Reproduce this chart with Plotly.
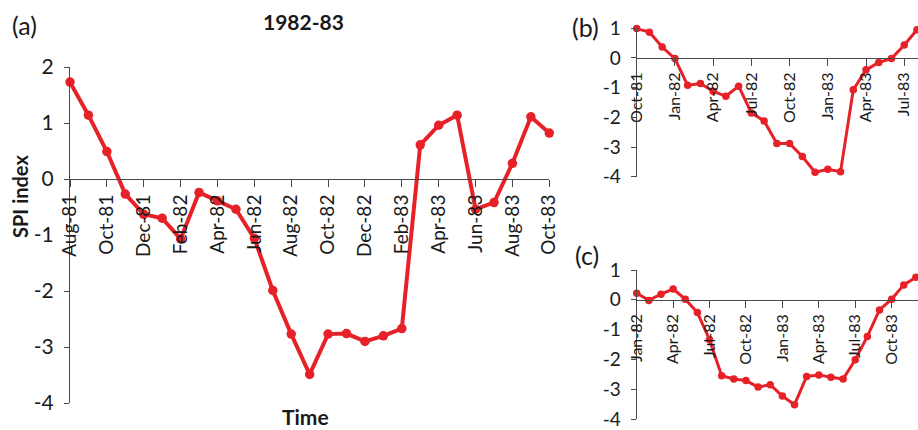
import plotly.graph_objects as go

# ---------------- data ----------------
months_a = ["Aug-81", "Sep-81", "Oct-81", "Nov-81", "Dec-81", "Jan-82", "Feb-82", "Mar-82",
            "Apr-82", "May-82", "Jun-82", "Jul-82", "Aug-82", "Sep-82", "Oct-82", "Nov-82",
            "Dec-82", "Jan-83", "Feb-83", "Mar-83", "Apr-83", "May-83", "Jun-83", "Jul-83",
            "Aug-83", "Sep-83", "Oct-83"]
spi_a = [1.73, 1.14, 0.49, -0.27, -0.63, -0.70, -1.07, -0.24, -0.39, -0.54, -1.06, -1.99,
         -2.77, -3.49, -2.77, -2.76, -2.90, -2.80, -2.67, 0.61, 0.96, 1.14, -0.54, -0.42,
         0.28, 1.11, 0.82]
ticks_a = ["Aug-81", "Oct-81", "Dec-81", "Feb-82", "Apr-82", "Jun-82", "Aug-82", "Oct-82",
           "Dec-82", "Feb-83", "Apr-83", "Jun-83", "Aug-83", "Oct-83"]

months_b = ["Oct-81", "Nov-81", "Dec-81", "Jan-82", "Feb-82", "Mar-82", "Apr-82", "May-82",
            "Jun-82", "Jul-82", "Aug-82", "Sep-82", "Oct-82", "Nov-82", "Dec-82", "Jan-83",
            "Feb-83", "Mar-83", "Apr-83", "May-83", "Jun-83", "Jul-83", "Aug-83"]
spi_b = [0.99, 0.87, 0.37, -0.02, -0.92, -0.86, -1.12, -1.29, -0.95, -1.85, -2.12, -2.88,
         -2.88, -3.32, -3.85, -3.75, -3.83, -1.07, -0.40, -0.15, -0.02, 0.44, 0.95]
ticks_b = ["Oct-81", "Jan-82", "Apr-82", "Jul-82", "Oct-82", "Jan-83", "Apr-83", "Jul-83"]

months_c = ["Jan-82", "Feb-82", "Mar-82", "Apr-82", "May-82", "Jun-82", "Jul-82", "Aug-82",
            "Sep-82", "Oct-82", "Nov-82", "Dec-82", "Jan-83", "Feb-83", "Mar-83", "Apr-83",
            "May-83", "Jun-83", "Jul-83", "Aug-83", "Sep-83", "Oct-83", "Nov-83", "Dec-83"]
spi_c = [0.22, -0.02, 0.19, 0.36, 0.02, -0.43, -1.34, -2.55, -2.66, -2.71, -2.93, -2.85,
         -3.23, -3.52, -2.57, -2.52, -2.60, -2.66, -2.01, -1.23, -0.34, 0.02, 0.50, 0.76]
ticks_c = ["Jan-82", "Apr-82", "Jul-82", "Oct-82", "Jan-83", "Apr-83", "Jul-83", "Oct-83"]

y_ticks_a = [2, 1, 0, -1, -2, -3, -4]
y_ticks_bc = [1, 0, -1, -2, -3, -4]

# ---------------- layout helpers ----------------
W, H = 918, 430
FONT = "Lato, 'Open Sans', sans-serif"
RED = "#e62228"
AX = "#4a4a4a"


def px(x):
    return x / W


def py(y):
    return 1 - y / H


def ylabels(vals):
    return [str(v) for v in vals]  # hyphen minus like the original


fig = go.Figure()

fig.add_trace(go.Scatter(x=months_a, y=spi_a, mode="lines+markers", xaxis="x", yaxis="y",
                         line=dict(color=RED, width=4), marker=dict(color=RED, size=9.5),
                         cliponaxis=False, showlegend=False))
fig.add_trace(go.Scatter(x=months_b, y=spi_b, mode="lines+markers", xaxis="x2", yaxis="y2",
                         line=dict(color=RED, width=3), marker=dict(color=RED, size=7.5),
                         cliponaxis=False, showlegend=False))
fig.add_trace(go.Scatter(x=months_c, y=spi_c, mode="lines+markers", xaxis="x3", yaxis="y3",
                         line=dict(color=RED, width=3), marker=dict(color=RED, size=7.5),
                         cliponaxis=False, showlegend=False))

# panel geometry (pixels)
a_dom_x = [px(70), px(549.3)]
a_dom_y = [py(403), py(67)]
a_rng_y = [-4, 2]
b_dom_x = [px(636.7), 1.0]
b_dom_y = [py(176.7), py(28.3)]
c_dom_x = [px(636.7), 1.0]
c_dom_y = [py(419), py(270)]
bc_rng_y = [-4, 1]


def zero_pos(dom, rng):
    return dom[0] + (0 - rng[0]) / (rng[1] - rng[0]) * (dom[1] - dom[0])


def xaxis(dom, ydom, yrng, ticks, rng, fsize):
    return dict(domain=dom, type="category", range=rng, anchor="free",
                position=zero_pos(ydom, yrng), automargin=False,
                showline=True, linecolor=AX, linewidth=1, mirror=False,
                showgrid=False, zeroline=False,
                tickmode="array", tickvals=ticks, ticktext=ticks,
                ticks="outside", ticklen=7, tickcolor=AX, tickwidth=1,
                tickangle=-90, tickfont=dict(family=FONT, size=fsize, color="#1a1a1a"),
                fixedrange=True)


def yaxis(dom, rng, vals, fsize, anchor_x):
    return dict(domain=dom, range=rng, anchor=anchor_x, automargin=False,
                showline=True, linecolor=AX, linewidth=1,
                showgrid=False, zeroline=False,
                tickmode="array", tickvals=vals, ticktext=ylabels(vals),
                ticks="outside", ticklen=5, tickcolor=AX, tickwidth=1,
                ticklabelstandoff=6,
                tickfont=dict(family=FONT, size=fsize, color="#1a1a1a"),
                fixedrange=True)


fig.update_layout(
    width=W, height=H,
    margin=dict(l=0, r=0, t=0, b=0, autoexpand=False),
    paper_bgcolor="white", plot_bgcolor="white",
    xaxis=xaxis(a_dom_x, a_dom_y, a_rng_y, ticks_a, [0, len(months_a) - 1], 19),
    yaxis=yaxis(a_dom_y, a_rng_y, y_ticks_a, 21, "x"),
    xaxis2=xaxis(b_dom_x, b_dom_y, bc_rng_y, ticks_b, [0, (918 - 636.7) / 12.74], 16),
    yaxis2=yaxis(b_dom_y, bc_rng_y, y_ticks_bc, 19, "x2"),
    xaxis3=xaxis(c_dom_x, c_dom_y, bc_rng_y, ticks_c, [0, (918 - 636.7) / 12.14], 16),
    yaxis3=yaxis(c_dom_y, bc_rng_y, y_ticks_bc, 19, "x3"),
)

ann = [
    dict(text="(a)", x=px(24), y=py(25), size=25, bold=False, angle=0),
    dict(text="1982-83", x=px(303), y=py(21), size=21, bold=True, angle=0),
    dict(text="SPI index", x=px(20), y=py(197), size=20, bold=True, angle=-90),
    dict(text="Time", x=px(305), y=py(416), size=21, bold=True, angle=0),
    dict(text="(b)", x=px(585), y=py(27), size=25, bold=False, angle=0),
    dict(text="(c)", x=px(587), y=py(255), size=25, bold=False, angle=0),
]
for a in ann:
    fig.add_annotation(text=f"<b>{a['text']}</b>" if a["bold"] else a["text"],
                       xref="paper", yref="paper", x=a["x"], y=a["y"],
                       xanchor="center", yanchor="middle", showarrow=False,
                       textangle=a["angle"],
                       font=dict(family=FONT, size=a["size"], color="#1a1a1a"))

fig.write_html("out.html", config={"displayModeBar": False},
               post_script="document.body.style.margin='0';document.body.style.overflow='hidden';")
